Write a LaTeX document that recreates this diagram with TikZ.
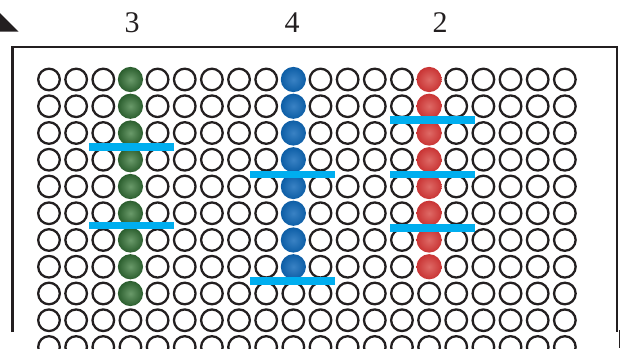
\documentclass[tikz,border=0pt]{standalone}
\usepackage{fontspec}
\setmainfont{Liberation Serif}
\definecolor{ink}{HTML}{231F20}
\definecolor{barcyan}{HTML}{00AEEF}
\definecolor{gOut}{HTML}{2B5E2E}
\definecolor{gIn}{HTML}{6A9A6A}
\definecolor{bOut}{HTML}{0D5EA6}
\definecolor{bIn}{HTML}{3A82C4}
\definecolor{rOut}{HTML}{C93434}
\definecolor{rIn}{HTML}{DE6A66}
\begin{document}
\begin{tikzpicture}[x=1pt,y=-1pt,
  hole/.style={draw=ink,line width=2.3pt,fill=white},
  framestyle/.style={draw=ink,line width=2.8pt},
  num/.style={font=\fontsize{30}{32}\selectfont,text=ink,inner sep=0pt},
  bar/.style={fill=barcyan,draw=none}]
\useasboundingbox (0,0) rectangle (623,348);
\clip (0,0) rectangle (623,348);
% corner triangle
\fill[ink] (0,13) -- (18.5,31.5) -- (0,31.5) -- cycle;
% frame
\draw[framestyle] (12.5,332) -- (12.5,47) -- (617,47) -- (617,332);
\draw[ink,line width=0.8pt] (619.5,330) -- (619.5,348);
% labels
\node[num] (l3) at (132,23) {3};
\node[num] (l4) at (292,23) {4};
\node[num] (l2) at (440,23) {2};
% empty holes
\foreach \c in {1,...,20}{
  \foreach \r in {1,...,11}{
    \pgfmathtruncatemacro{\isball}{(\c==4 && \r<=9) || (\c==10 && \r<=8) || (\c==15 && \r<=8)}
    \ifnum\isball=0
      \draw[hole] ({49+(\c-1)*27.15},{79.5+(\r-1)*26.75}) circle (10.8pt);
    \fi
  }
}
% balls
\foreach \r in {1,...,9}{
  \shade[inner color=gIn,outer color=gOut] ({49+3*27.15},{79.5+(\r-1)*26.75}) circle (12.6pt);
}
\foreach \r in {1,...,8}{
  \shade[inner color=bIn,outer color=bOut] ({49+9*27.15},{79.5+(\r-1)*26.75}) circle (12.6pt);
  \shade[inner color=rIn,outer color=rOut] ({49+14*27.15},{79.5+(\r-1)*26.75}) circle (12.6pt);
}
% bars
\foreach \xc/\yc in {131.5/146.8, 131.5/225.5, 292.5/174.5, 292.5/281.2, 432/119.8, 432/174.5, 432/227.8}{
  \fill[bar] (\xc-42.5,\yc-3.8) rectangle (\xc+42.5,\yc+3.8);
}
\end{tikzpicture}
\end{document}
